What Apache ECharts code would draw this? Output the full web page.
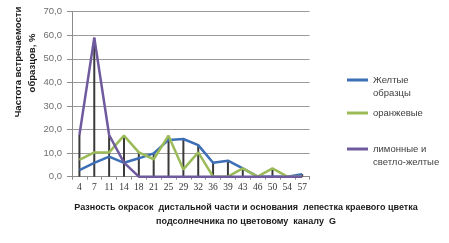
<!DOCTYPE html>
<html><head><meta charset="utf-8">
<script src="https://cdn.jsdelivr.net/npm/echarts@6/dist/echarts.min.js"></script>
<style>html,body{margin:0;padding:0;background:#fff}#c{width:449px;height:243px}</style>
</head><body><div id="c"></div>
<script>
var categories = ['4','7','11','14','18','21','25','29','32','36','39','43','46','50','54','57'];
var yellow = [2.8,5.9,8.5,5.9,7.8,9.9,15.6,16.0,13.4,5.9,6.8,3.5,0,0,0,1.1];
var orange = [7.1,10.3,10.3,17.4,10.3,7.4,17.4,3.1,10.3,0,0,3.5,0,3.5,0,0];
var lemon  = [17.7,59.0,17.7,6.0,0,0,0,0,0,0,0,0,0,0,0,0];
var yTicks = {min:0, max:70, interval:10};
var names = ['Желтые\nобразцы','оранжевые','лимонные и\nсветло-желтые'];

var drop = categories.map(function(_,i){ return Math.max(yellow[i], orange[i], lemon[i]); });

function lg(name, top){
  var lines = name.split('\n').length;
  return {orient:'vertical', left:347, top:top, padding:0, icon:'rect', itemWidth:21, itemHeight:3,
    textStyle:{fontSize:9.5, fontFamily:'Liberation Sans', color:'#404040', lineHeight:13},
    formatter:function(n){ return lines>1 ? '\n'+n : n; },
    data:[name]};
}

var chart = echarts.init(document.getElementById('c'));
chart.setOption({
  animation:false,
  grid:{left:72, right:139.4, top:11.7, bottom:66.3},
  xAxis:{type:'category', data:categories, boundaryGap:true,
    axisLine:{lineStyle:{color:'#8c8c8c', width:1}},
    axisTick:{show:true, length:3, lineStyle:{color:'#8c8c8c'}},
    axisLabel:{margin:6, fontSize:9.5, fontFamily:'Liberation Serif', color:'#333'}},
  yAxis:{type:'value', min:yTicks.min, max:yTicks.max, interval:yTicks.interval,
    axisLine:{show:true, lineStyle:{color:'#8c8c8c'}},
    axisTick:{show:true, length:5, lineStyle:{color:'#8c8c8c'}},
    splitLine:{lineStyle:{color:'#9a9a9a', width:1}},
    axisLabel:{margin:10, fontSize:9.5, fontFamily:'Liberation Sans', color:'#6e6e6e',
      formatter:function(v){return v.toFixed(1).replace('.',',');}}},
  legend:[lg(names[0], 60.5), lg(names[1], 106.5), lg(names[2], 129.5)],
  graphic:[
    {type:'text', x:18, y:62, rotation:Math.PI/2,
      style:{text:'Частота встречаемости', fontSize:9.5, fontWeight:'bold', fontFamily:'Liberation Sans', fill:'#1a1a1a', align:'center', verticalAlign:'middle'}},
    {type:'text', x:32, y:63, rotation:Math.PI/2,
      style:{text:'образцов, %', fontSize:9.5, fontWeight:'bold', fontFamily:'Liberation Sans', fill:'#1a1a1a', align:'center', verticalAlign:'middle'}},
    {type:'text', x:246, y:215,
      style:{text:'Разность окрасок  дистальной части и основания  лепестка краевого цветка\nподсолнечника по цветовому  каналу  G', fontSize:9, lineHeight:14, fontWeight:'bold', fontFamily:'Liberation Sans', fill:'#1a1a1a', align:'center', verticalAlign:'middle'}}
  ],
  series:[
    {type:'bar', data:drop, barWidth:2, itemStyle:{color:'#3a3a3a'}, silent:true, z:1, legendHoverLink:false},
    {name:names[0], type:'line', data:yellow, symbol:'none', lineStyle:{color:'#3d6fb6', width:2.5}, itemStyle:{color:'#3d6fb6'}, z:3},
    {name:names[1], type:'line', data:orange, symbol:'none', lineStyle:{color:'#9bbb59', width:2.5}, itemStyle:{color:'#9bbb59'}, z:3},
    {name:names[2], type:'line', data:lemon, symbol:'none', lineStyle:{color:'#6f5a9e', width:2.5}, itemStyle:{color:'#6f5a9e'}, z:4}
  ]
});
</script></body></html>
